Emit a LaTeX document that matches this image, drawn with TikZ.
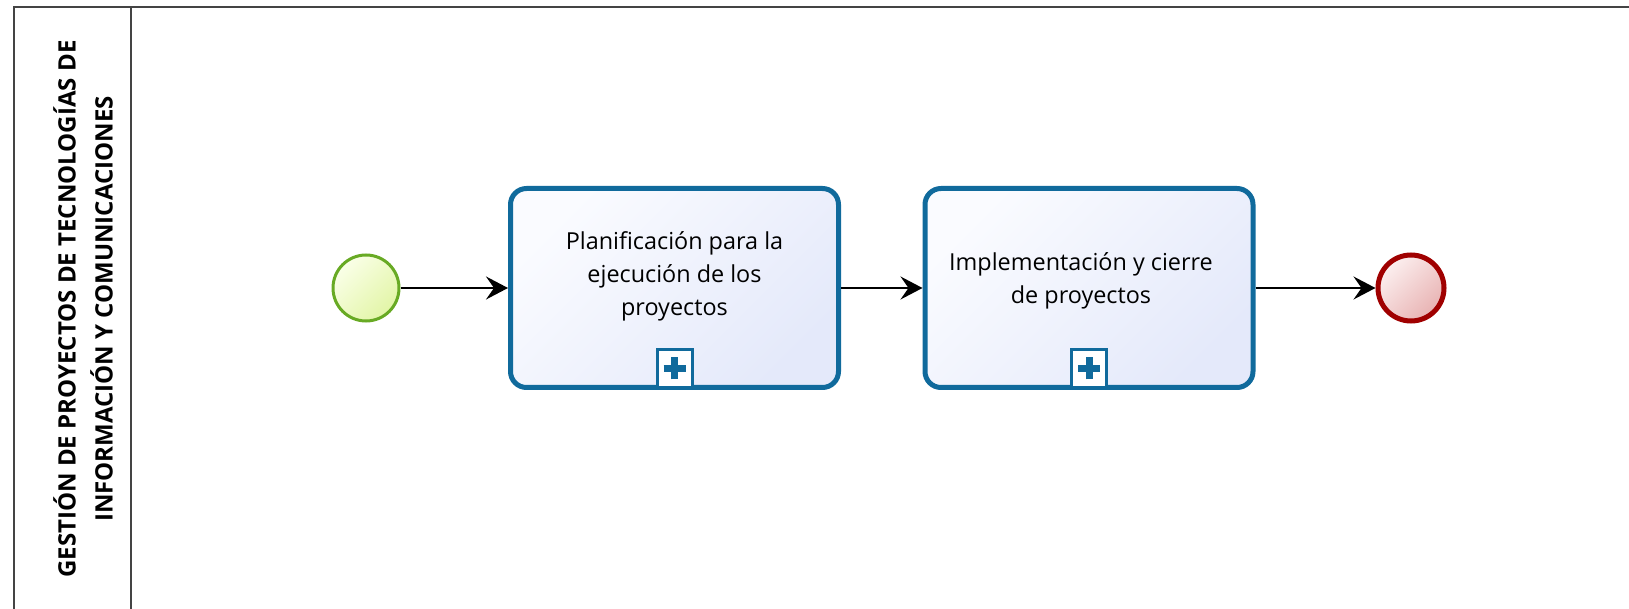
\documentclass[tikz,border=0pt]{standalone}
\usepackage{fontspec}
\setmainfont{Open Sans}
\usetikzlibrary{arrows.meta,positioning}

\definecolor{tskblue}{RGB}{16,106,156}
\definecolor{tsklight}{RGB}{250,251,255}
\definecolor{tskdark}{RGB}{228,233,250}
\definecolor{stgreen}{RGB}{104,170,36}
\definecolor{stlight}{RGB}{250,255,232}
\definecolor{stdark}{RGB}{226,245,166}
\definecolor{endred}{RGB}{160,0,0}
\definecolor{endlight}{RGB}{252,240,240}
\definecolor{enddark}{RGB}{232,178,178}
\definecolor{poolgray}{RGB}{68,68,68}

\tikzset{
  pool/.style={draw=poolgray, line width=1pt},
  flow/.style={line width=1pt, -{Stealth[length=11pt,width=11.5pt,inset=4pt]}},
  task/.style={rectangle, rounded corners=8pt, draw=tskblue, line width=2.5pt,
    minimum width=164pt, minimum height=99.5pt, inner sep=0pt,
    top color=tsklight, bottom color=tskdark, shading angle=45},
  tasktxt/.style={align=center, inner sep=0pt, font=\fontsize{11.7}{16.5}\selectfont},
  subproc/.style={rectangle, draw=tskblue, line width=1.5pt, fill=white,
    minimum width=17.5pt, minimum height=19pt, inner sep=0pt, outer sep=0pt, anchor=south,
    path picture={\draw[tskblue, line width=3.5pt]
      ([xshift=-5.5pt]path picture bounding box.center) -- ([xshift=5.5pt]path picture bounding box.center)
      ([yshift=-5.5pt]path picture bounding box.center) -- ([yshift=5.5pt]path picture bounding box.center);}},
  startev/.style={circle, draw=stgreen, line width=1.5pt, minimum size=33pt, inner sep=0pt,
    top color=stlight, bottom color=stdark, shading angle=45},
  endev/.style={circle, draw=endred, line width=2.5pt, minimum size=33pt, inner sep=0pt,
    top color=endlight, bottom color=enddark, shading angle=45},
  lanetxt/.style={align=center, inner sep=0pt, font=\bfseries\fontsize{12}{18.5}\selectfont}
}

\begin{document}
\begin{tikzpicture}[x=0.5pt, y=-0.5pt]
    \useasboundingbox (0,0) rectangle (1629,609);
    % pool and lane
    \draw[pool] (14,609) -- (14,7.3) -- (1629,7.3);
    \draw[pool] (131,7.3) -- (131,609);
    \node[lanetxt, rotate=90] (lanelbl) at (83,309)
        {GESTIÓN DE PROYECTOS DE TECNOLOGÍAS DE\\INFORMACIÓN Y COMUNICACIONES};
    % events and sub-processes
    \node[startev] (start) at (366,288) {};
    \node[task] (plan) at (674.5,288) {};
    \node[tasktxt] (plantxt) at ([yshift=6pt]plan.center)
        {Planificación para la\\ejecución de los\\proyectos};
    \node[subproc] (planplus) at ([yshift=1.25pt]plan.south) {};
    \node[task] (impl) at (1089,288) {};
    \node[tasktxt] (impltxt) at ([xshift=-4pt,yshift=3.5pt]impl.center)
        {Implementación y cierre\\de proyectos};
    \node[subproc] (implplus) at ([yshift=1.25pt]impl.south) {};
    \node[endev] (end) at (1411,288) {};
    % sequence flows
    \draw[flow] (start) -- (plan);
    \draw[flow] (plan) -- (impl);
    \draw[flow] (impl) -- (end);
\end{tikzpicture}
\end{document}
